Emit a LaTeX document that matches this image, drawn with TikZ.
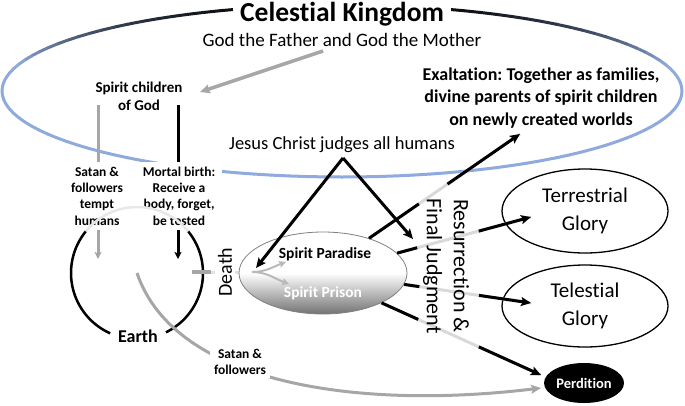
\documentclass[tikz,border=0pt]{standalone}
\usepackage{fontspec}
\setmainfont{Carlito}[Ligatures={NoCommon,NoContextual}]
\frenchspacing
\usetikzlibrary{arrows.meta,calc,shapes.geometric}
\definecolor{celblue}{HTML}{8FAADC}
\definecolor{ggray}{HTML}{A6A6A6}
\definecolor{lgray}{HTML}{D9D9D9}
\newcommand{\myfs}[2]{\fontsize{#1}{#2}\selectfont}
\begin{document}
\begin{tikzpicture}[x=1pt,y=-1pt,
  tip/.style={-{Stealth[length=10pt,width=9pt,inset=2pt]}},
  smalltip/.style={-{Stealth[length=7pt,width=7pt,inset=1.5pt]}},
  blk/.style={draw=black,line width=3pt},
  lbl/.style={align=center,font={\bfseries\myfs{13.5}{16.3}}},
  glory/.style={ellipse,draw=black,line width=1.3pt,inner sep=0,align=center,font={\myfs{21}{28}}}]
\useasboundingbox (0,0) rectangle (685,405);
% Celestial Kingdom ellipse with gradient stroke
\foreach \t in {0,3,...,357}{
  \pgfmathsetmacro\s{sin(\t+1.5)}
  \pgfmathtruncatemacro\p{max(0,min(100,100*(\s-0.3)/0.7))}
  \draw[line width=3pt,line cap=round,color=black!\p!celblue] ({342+340*cos(\t)},{91-86*sin(\t)}) -- ({342+340*cos(\t+3)},{91-86*sin(\t+3)});
}
\node[fill=white,inner xsep=7pt,inner ysep=1pt,font={\bfseries\myfs{27.5}{32}}] (title) at (342,14) {Celestial Kingdom};
\node[font={\myfs{19}{23}}] (god) at (342,40) {God the Father and God the Mother};
\node[align=center,font={\bfseries\myfs{15}{18}}] (spirit) at (139,96) {Spirit children\\of God};
\node[align=center,font={\bfseries\myfs{18}{22.5}}] (exalt) at (541,98) {Exaltation: Together as families,\\divine parents of spirit children\\on newly created worlds};
\node[font={\myfs{18.5}{22}}] (jesus) at (342,145) {Jesus Christ judges all humans};
% named coordinates
\coordinate (godOut) at (323,51);
\coordinate (spIn) at (200,92);
\coordinate (gTop) at (98,105);
\coordinate (gTip) at (98,259);
\coordinate (bTop) at (178,105);
\coordinate (bTip) at (178,259);
\coordinate (jApex) at (343,158);
\coordinate (jLeft) at (256,268);
\coordinate (jRight) at (413,239);
\coordinate (exTip) at (520,134);
\coordinate (terTip) at (531,217);
\coordinate (telTip) at (531,303);
\coordinate (perTip) at (541,375);
\coordinate (perIn) at (541,388);
\coordinate (fork) at (252,272);
\coordinate (parTip) at (286,262);
\coordinate (priTip) at (289,284);
% God -> spirit children
\draw[ggray,line width=3.5pt,tip] (godOut) -- (spIn);
% vertical arrows
\draw[ggray,line width=3pt,smalltip] (gTop) -- (gTip);
\draw[blk,smalltip] (bTop) -- (bTip);
\node[lbl,fill=white,inner xsep=10pt,inner ysep=5pt] (tempt) at (97,196) {Satan \&\\followers\\tempt\\humans};
\node[lbl,fill=white,inner xsep=7pt,inner ysep=5pt] (mortal) at (179,196) {Mortal birth:\\Receive a\\body, forget,\\be tested};
% Earth circle
\node[circle,minimum size=132pt,inner sep=0] (earth) at (137,273) {};
\draw[line width=2.5pt,color=gray!18] plot[domain=39:141,samples=40] ({137+66*cos(\x)},{273-66*sin(\x)});
\draw[line width=2.5pt] plot[domain=141:246,samples=40] ({137+66*cos(\x)},{273-66*sin(\x)});
\draw[line width=2.5pt] plot[domain=-64:39,samples=40] ({137+66*cos(\x)},{273-66*sin(\x)});
\node[font={\bfseries\myfs{18}{21}}] (earthlbl) at (138,336) {Earth};
% Death
\draw[color=gray!22,line width=3pt] ($(earth.east)+(-11,-1)$) -- (fork);
\draw[ggray,line width=4pt] ($(earth.east)+(-11,-1)$) -- ($(earth.east)+(8,-1)$);
\node[rotate=90,fill=white,inner xsep=1pt,inner ysep=3pt,font={\myfs{20}{24}}] (death) at (225,272) {Death};
% Spirit world
\node[ellipse,draw=gray,line width=0.8pt,minimum width=168pt,minimum height=82pt,inner sep=0,
  top color=white,bottom color=black!55,middle color=white] (sp) at (323,273) {};
\node[font={\bfseries\myfs{15.5}{18}}] (par) at (325,254) {Spirit Paradise};
\node[text=white,font={\bfseries\myfs{15.5}{18}}] (pri) at (323,293) {Spirit Prison};
\draw[gray!55,line width=2pt,smalltip] (fork) to[out=0,in=200] (parTip);
\draw[gray!55,line width=2pt,smalltip] (fork) to[out=0,in=160] (priTip);
% Satan & followers to perdition
\draw[ggray,line width=3pt,tip] (earth.center) .. controls (175,385) and (360,410) .. (perIn);
\node[lbl,fill=white,inner xsep=4pt,inner ysep=3pt] (satan) at (240,362) {Satan \&\\followers};
% outcome ellipses
\node[glory,minimum width=166pt,minimum height=84pt] (terr) at (585,211) {Terrestrial\\Glory};
\node[glory,minimum width=166pt,minimum height=82pt] (tele) at (585,306) {Telestial\\Glory};
\node[ellipse,fill=black,minimum width=80pt,minimum height=40pt,inner sep=0,text=white,font={\bfseries\myfs{14.5}{17}}] (perd) at (584,383) {Perdition};
% Resurrection & final judgment lines
\draw[lgray,line width=3pt] (sp.37) -- (exTip);
\draw[blk] (sp.37) -- ($(sp.37)!0.33!(exTip)$);
\draw[blk,tip] ($(sp.37)!0.52!(exTip)$) -- (exTip);
\draw[lgray,line width=3pt] (sp.15) -- (terTip);
\draw[blk] (sp.15) -- ($(sp.15)!0.15!(terTip)$);
\draw[blk,tip] ($(sp.15)!0.61!(terTip)$) -- (terTip);
\draw[lgray,line width=3pt] (sp.-8) -- (telTip);
\draw[blk] (sp.-8) -- ($(sp.-8)!0.12!(telTip)$);
\draw[blk,tip] ($(sp.-8)!0.59!(telTip)$) -- (telTip);
\draw[lgray,line width=3pt] (sp.-27) -- (perTip);
\draw[blk] (sp.-27) -- ($(sp.-27)!0.23!(perTip)$);
\draw[blk,tip] ($(sp.-27)!0.61!(perTip)$) -- (perTip);
\node[rotate=-90,align=center,font={\myfs{22}{27}}] (resur) at (446,266) {Resurrection \&\\Final Judgment};
% Jesus judges
\draw[blk,tip] (jApex) -- (jLeft);
\draw[blk,tip] (jApex) -- (jRight);
\end{tikzpicture}
\end{document}
